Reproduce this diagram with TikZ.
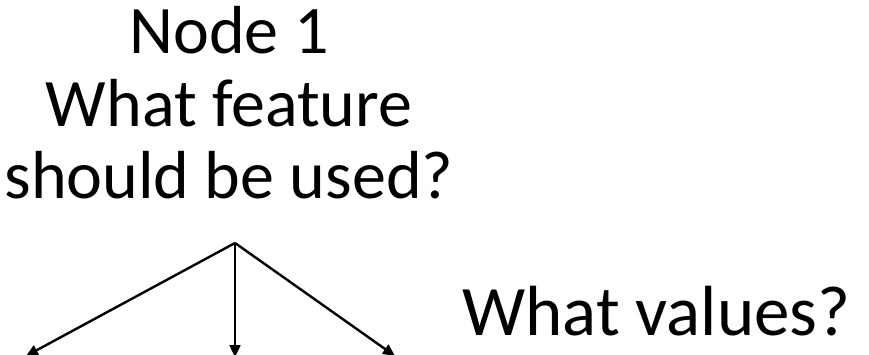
\documentclass[tikz,border=0pt]{standalone}
\usepackage{fontspec}
\setmainfont{Carlito}
\usetikzlibrary{arrows.meta}
\begin{document}
\begin{tikzpicture}[x=1pt,y=-1pt,
  lbl/.style={inner sep=0pt,align=center,font=\fontsize{68}{72.5}\selectfont},
  big/.style={inner sep=0pt,font=\fontsize{71}{80}\selectfont},
  branch/.style={line width=2.4pt,-{Triangle[length=12pt,width=11pt]}}]
\useasboundingbox[fill=white] (0,0) rectangle (869,355);
\node[lbl,anchor=base] (q) at (229,199) {Node 1\\What feature\\should be used?};
\coordinate (apex) at (235,243);
\coordinate (l) at (26,356);
\coordinate (m) at (235,357);
\coordinate (r) at (395,356);
\draw[branch] (apex) -- (l);
\draw[branch] (apex) -- (m);
\draw[branch] (apex) -- (r);
\node[big,anchor=base west] (v) at (462,335) {What values?};
\end{tikzpicture}
\end{document}
